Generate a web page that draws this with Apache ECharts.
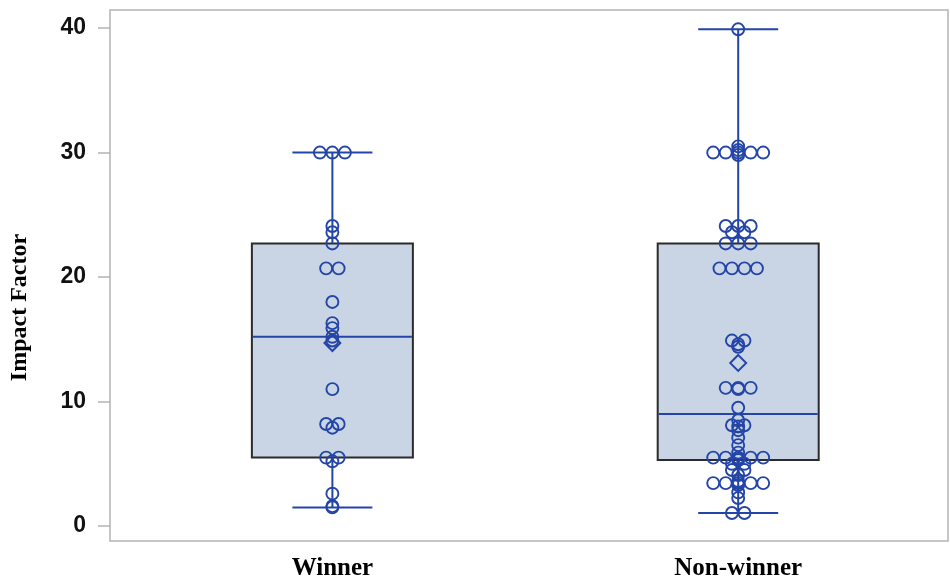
<!DOCTYPE html>
<html><head><meta charset="utf-8">
<script src="https://cdn.jsdelivr.net/npm/echarts@6/dist/echarts.min.js"></script>
<style>html,body{margin:0;padding:0;background:#fff}#c{width:950px;height:578px}</style>
</head><body><div id="c"></div>
<script>
// ---- data ----
const categories = ['Winner', 'Non-winner'];
const yTicks = [0, 10, 20, 30, 40];
const winnerValues = [30, 30, 30, 24.1, 23.6, 22.7, 20.7, 20.7, 18.0, 16.3, 15.9, 15.2, 14.9,
  11.0, 8.2, 8.2, 7.9, 5.5, 5.5, 5.2, 2.6, 1.6, 1.5];
const nonWinnerValues = [39.9, 30, 30, 30, 30, 30, 30.5, 30.2, 29.8, 24.1, 24.1, 24.1, 23.6, 23.6,
  22.7, 22.7, 22.7, 20.7, 20.7, 20.7, 20.7, 14.9, 14.9, 14.6, 14.4, 11.1, 11.1, 11.1, 11.0,
  9.5, 8.5, 8.1, 8.1, 8.0, 7.7, 7.1, 6.5, 5.9, 5.5, 5.5, 5.5, 5.5, 5.5, 5.4, 5.3, 5.0, 5.0,
  4.5, 4.5, 4.1, 3.45, 3.45, 3.45, 3.45, 3.45, 3.6, 3.3, 2.7, 2.25, 1.05, 1.05];
// box stats: [min, Q1, median, Q3, max]
const winnerBox = [1.5, 5.5, 15.2, 22.7, 30.0];
const nonWinnerBox = [1.05, 5.3, 9.0, 22.7, 39.9];
const groupMeans = [14.7, 13.1];

// ---- styling constants ----
const BLUE = '#2445a8';
const BOX_HALF = 80.5, CAP_HALF = 40, JITTER_PX = 12.5;

// jitter: identical values spread side by side
function jitter(values, groupIdx) {
  const counts = {}, seen = {};
  values.forEach(v => { counts[v] = (counts[v] || 0) + 1; });
  return values.map(v => {
    const k = seen[v] || 0; seen[v] = k + 1;
    return [groupIdx, v, k - (counts[v] - 1) / 2];
  });
}
const pointData = jitter(winnerValues, 1).concat(jitter(nonWinnerValues, 2));
const boxData = [[1].concat(winnerBox), [2].concat(nonWinnerBox)];
const meanData = groupMeans.map((m, i) => [i + 1, m]);

function renderBox(params, api) {
  const x = api.value(0);
  const pMin = api.coord([x, api.value(1)]);
  const pQ1 = api.coord([x, api.value(2)]);
  const pMed = api.coord([x, api.value(3)]);
  const pQ3 = api.coord([x, api.value(4)]);
  const pMax = api.coord([x, api.value(5)]);
  const cx = pMed[0];
  const ls = { stroke: BLUE, lineWidth: 2 };
  return { type: 'group', children: [
    { type: 'rect', shape: { x: cx - BOX_HALF, y: pQ3[1], width: 2 * BOX_HALF, height: pQ1[1] - pQ3[1] },
      style: { fill: '#c9d4e5', stroke: '#2b2b2b', lineWidth: 2 } },
    { type: 'line', shape: { x1: cx, y1: pQ3[1], x2: cx, y2: pMax[1] }, style: ls },
    { type: 'line', shape: { x1: cx, y1: pQ1[1], x2: cx, y2: pMin[1] }, style: ls },
    { type: 'line', shape: { x1: cx - CAP_HALF, y1: pMax[1], x2: cx + CAP_HALF, y2: pMax[1] }, style: ls },
    { type: 'line', shape: { x1: cx - CAP_HALF, y1: pMin[1], x2: cx + CAP_HALF, y2: pMin[1] }, style: ls },
    { type: 'line', shape: { x1: cx - BOX_HALF + 1, y1: pMed[1], x2: cx + BOX_HALF - 1, y2: pMed[1] }, style: ls }
  ]};
}
function renderPoint(params, api) {
  const p = api.coord([api.value(0), api.value(1)]);
  return { type: 'circle', shape: { cx: p[0] + api.value(2) * JITTER_PX, cy: p[1], r: 6 },
    style: { fill: 'none', stroke: BLUE, lineWidth: 1.9 } };
}
function renderMean(params, api) {
  const p = api.coord([api.value(0), api.value(1)]);
  const h = 8;
  return { type: 'polygon', shape: { points: [[p[0], p[1] - h], [p[0] + h, p[1]], [p[0], p[1] + h], [p[0] - h, p[1]]] },
    style: { fill: 'none', stroke: BLUE, lineWidth: 1.9 } };
}

const chart = echarts.init(document.getElementById('c'), null, { renderer: 'canvas' });
chart.setOption({
  backgroundColor: '#fff',
  animation: false,
  grid: { left: 110, right: 2, top: 10, bottom: 37, show: true, borderColor: '#b4b4b4', borderWidth: 1.5,
    containLabel: false, outerBoundsMode: 'none' },
  xAxis: {
    type: 'value', min: 0.452, max: 2.517,
    splitLine: { show: false },
    axisLine: { show: false },
    axisTick: { show: false },
    axisLabel: {
      customValues: [1, 2],
      formatter: v => categories[Math.round(v) - 1] || '',
      fontFamily: 'Liberation Serif', fontWeight: 'bold', fontSize: 25, color: '#000', margin: 15
    }
  },
  yAxis: {
    type: 'value', min: -1.2, max: 41.45,
    name: 'Impact Factor', nameLocation: 'middle', nameGap: 78, nameRotate: 90,
    nameTextStyle: { fontFamily: 'Liberation Serif', fontWeight: 'bold', fontSize: 24, color: '#000', padding: [0, 64, 0, 0] },
    splitLine: { show: false },
    axisLine: { show: false },
    axisTick: { show: true, inside: false, length: 12, customValues: yTicks, lineStyle: { color: '#b4b4b4', width: 1.5 } },
    axisLabel: { customValues: yTicks, fontFamily: 'Liberation Sans', fontWeight: 'bold', fontSize: 23, color: '#111', margin: 24 }
  },
  series: [
    { type: 'custom', renderItem: renderBox, data: boxData, z: 1 },
    { type: 'custom', renderItem: renderPoint, data: pointData, z: 2 },
    { type: 'custom', renderItem: renderMean, data: meanData, z: 3 }
  ]
});
</script></body></html>
